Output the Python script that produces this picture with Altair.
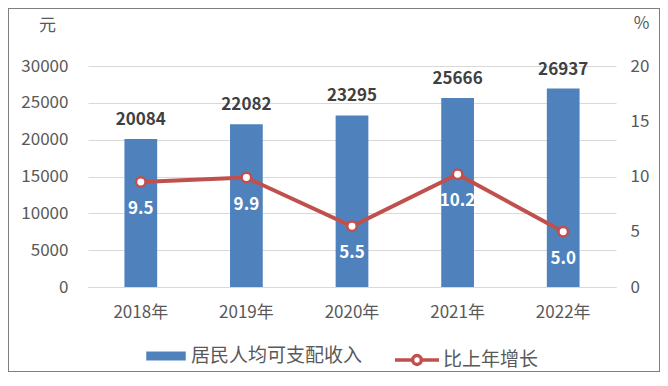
import altair as alt
import pandas as pd

years = ["2018年", "2019年", "2020年", "2021年", "2022年"]
income = [20084, 22082, 23295, 25666, 26937]
growth = [9.5, 9.9, 5.5, 10.2, 5.0]
bar_name = "居民人均可支配收入"
line_name = "比上年增长"

BLUE = "#4F81BD"
RED = "#C0504D"
GRID = "#D9D9D9"
TXT = "#595959"
FONT = "Noto Sans CJK SC"

df = pd.DataFrame({
    "year": years,
    "income": income,
    "growth": growth,
    "bname": [bar_name] * len(years),
    "lname": [line_name] * len(years),
})

x_enc = alt.X(
    "year:N", sort=years, title=None,
    scale=alt.Scale(paddingInner=0.69, paddingOuter=0.345),
    axis=alt.Axis(labelAngle=0, labelFontSize=17, labelColor=TXT, labelPadding=17,
                  ticks=False, domainColor=GRID, domainWidth=1, labelFont=FONT),
)

base = alt.Chart(df).encode(x=x_enc)

left_scale = alt.Scale(domain=[0, 30000])
right_scale = alt.Scale(domain=[0, 20])

y_left = alt.Y(
    "income:Q", scale=left_scale,
    axis=alt.Axis(values=[0, 5000, 10000, 15000, 20000, 25000, 30000], format="d",
                  grid=True, gridColor=GRID, domain=False, ticks=False, orient="left",
                  labelPadding=20, labelFontSize=17, labelColor=TXT, labelFont=FONT,
                  title="元", titleAngle=0, titleX=-41, titleY=-41,
                  titleAlign="center", titleBaseline="middle", titleFontSize=17,
                  titleFontWeight="normal", titleColor=TXT, titleFont=FONT),
)

bars = base.mark_bar(color=BLUE).encode(
    y=y_left,
    color=alt.Color("bname:N", scale=alt.Scale(domain=[bar_name], range=[BLUE]),
                    legend=alt.Legend(orient="none", legendX=58, legendY=270, title=None,
                                      symbolType="M-1,-0.23H1V0.23H-1Z", symbolSize=1560,
                                      symbolStrokeWidth=0, labelFontSize=19, labelColor=TXT,
                                      labelFont=FONT, labelOffset=5, labelLimit=400)),
)
bar_text = base.mark_text(fontWeight="bold", fontSize=17, color="#404040", dy=-19,
                          baseline="middle", font=FONT).encode(
    y=alt.Y("income:Q", scale=left_scale, axis=None),
    text=alt.Text("income:Q", format="d"))

y_right = alt.Y(
    "growth:Q", scale=right_scale,
    axis=alt.Axis(orient="right", values=[0, 5, 10, 15, 20], grid=False, domain=False,
                  ticks=False, labelPadding=14, labelFontSize=17, labelColor=TXT, labelFont=FONT,
                  title="%", titleAngle=0, titleX=25, titleY=-43, titleAlign="center",
                  titleBaseline="middle", titleFontSize=17, titleFontWeight="normal",
                  titleColor=TXT, titleFont=FONT),
)

line = base.mark_line(strokeWidth=4).encode(
    y=y_right,
    stroke=alt.Stroke("lname:N", scale=alt.Scale(domain=[line_name], range=[RED]),
                      legend=alt.Legend(orient="none", legendX=305, legendY=270, title=None,
                                        symbolType="M-1,0H-0.2M0.2,0H1M-0.2,0A0.2,0.2 0 1,0 0.2,0A0.2,0.2 0 1,0 -0.2,0Z",
                                        symbolSize=1936, symbolStrokeWidth=3.5,
                                        symbolFillColor="white", labelFontSize=19,
                                        labelColor=TXT, labelFont=FONT, labelOffset=2,
                                        labelLimit=400)),
)
points = base.mark_point(filled=True, fill="white", stroke=RED, strokeWidth=2.5, size=90,
                         opacity=1, shape="circle").encode(
    y=alt.Y("growth:Q", scale=right_scale, axis=None))
line_text = base.mark_text(fontWeight="bold", fontSize=17, color="white", dy=27,
                           baseline="middle", font=FONT).encode(
    y=alt.Y("growth:Q", scale=right_scale, axis=None),
    text=alt.Text("growth:Q", format=".1f"))

frame = alt.Chart(df).mark_rect(fill=None, stroke="#7F7F7F", strokeWidth=1).encode(
    x=alt.value(-79.5), x2=alt.value(571.5), y=alt.value(-57.5), y2=alt.value(305.5))

chart = alt.layer(bars, bar_text, line, points, line_text, frame).resolve_scale(
    y="independent", color="independent", stroke="independent"
).properties(
    width=528, height=221,
    autosize=alt.AutoSizeParams(type="none"),
    padding={"left": 80, "top": 58, "right": 44, "bottom": 91},
).configure(font=FONT).configure_view(stroke=None)

chart.save("out.html", embed_options={"renderer": "svg", "actions": False})
